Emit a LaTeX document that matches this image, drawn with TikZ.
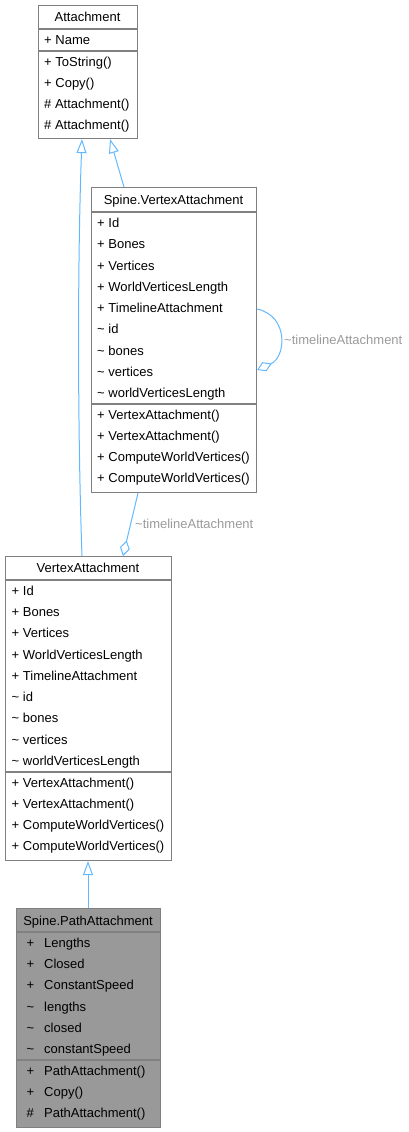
\documentclass[tikz,border=0pt]{standalone}
\usepackage{fontspec}
\setmainfont{Liberation Sans}
\usetikzlibrary{arrows.meta}
\definecolor{edgec}{HTML}{63B8FF}
\definecolor{bordc}{HTML}{808080}
\definecolor{lblc}{HTML}{9A9A9A}
\definecolor{pafill}{HTML}{999999}
\newcommand{\myfs}{\fontsize{13pt}{15pt}\selectfont}
\newcommand{\mytilde}{\textasciitilde}
\tikzset{
  cls/.style={draw=bordc, line width=1.1pt, fill=white, anchor=north west, inner sep=0pt},
  div/.style={draw=bordc, line width=1.1pt},
  row/.style={anchor=west, inner sep=0pt, text height=9.3pt, text depth=0pt, font=\myfs},
  ttl/.style={anchor=center, inner sep=0pt, text height=9.3pt, text depth=0pt, font=\myfs},
  lbl/.style={anchor=west, inner sep=0pt, text height=9.3pt, text depth=0pt, font=\myfs, text=lblc},
  rel/.style={draw=edgec, line width=1pt},
  inh/.style={rel, -{Triangle[open, length=14pt, width=10pt]}},
  agg/.style={rel, -{Diamond[open, length=16pt, width=10pt]}}
}
\begin{document}
\begin{tikzpicture}[x=1pt,y=-1pt]
\useasboundingbox (0,0) rectangle (409,1132);

% ---------- Attachment ----------
\node[cls, minimum width=99pt, minimum height=133pt] (att) at (38,5) {};
\draw[div] (38,29) -- (137,29);
\draw[div] (38,51) -- (137,51);
\node[ttl] (att-t) at (87.5,17) {Attachment};
\node[row] (att-a1) at (44,40) {+ Name};
\foreach \t [count=\i] in {+ ToString(), + Copy(), \# Attachment(), \# Attachment()}
  \node[row] (att-m\i) at (44,{62+21.1*(\i-1)}) {\t};

% ---------- Spine.VertexAttachment ----------
\node[cls, minimum width=165pt, minimum height=305pt] (sva) at (91,187) {};
\draw[div] (91,212) -- (256,212);
\draw[div] (91,404) -- (256,404);
\node[ttl] (sva-t) at (173.5,200) {Spine.VertexAttachment};
\foreach \t [count=\i] in {+ Id, + Bones, + Vertices, + WorldVerticesLength, + TimelineAttachment, \mytilde\ id, \mytilde\ bones, \mytilde\ vertices, \mytilde\ worldVerticesLength}
  \node[row] (sva-a\i) at (97,{222.8+21.3*(\i-1)}) {\t};
\foreach \t [count=\i] in {+ VertexAttachment(), + VertexAttachment(), + ComputeWorldVertices(), + ComputeWorldVertices()}
  \node[row] (sva-m\i) at (97,{414.8+21.1*(\i-1)}) {\t};

% ---------- VertexAttachment ----------
\node[cls, minimum width=166pt, minimum height=304pt] (va) at (5,556) {};
\draw[div] (5,580) -- (171,580);
\draw[div] (5,772) -- (171,772);
\node[ttl] (va-t) at (88,568) {VertexAttachment};
\foreach \t [count=\i] in {+ Id, + Bones, + Vertices, + WorldVerticesLength, + TimelineAttachment, \mytilde\ id, \mytilde\ bones, \mytilde\ vertices, \mytilde\ worldVerticesLength}
  \node[row] (va-a\i) at (11.5,{590.5+21.3*(\i-1)}) {\t};
\foreach \t [count=\i] in {+ VertexAttachment(), + VertexAttachment(), + ComputeWorldVertices(), + ComputeWorldVertices()}
  \node[row] (va-m\i) at (11.5,{782.7+21.1*(\i-1)}) {\t};

% ---------- Spine.PathAttachment ----------
\node[cls, fill=pafill, minimum width=144pt, minimum height=219pt] (pa) at (16,908) {};
\draw[div] (16,932) -- (160,932);
\draw[div] (16,1060) -- (160,1060);
\node[ttl] (pa-t) at (88,920.5) {Spine.PathAttachment};
\foreach \s/\t [count=\i] in {+/Lengths, +/Closed, +/ConstantSpeed, \mytilde/lengths, \mytilde/closed, \mytilde/constantSpeed}{
  \node[row] (pa-s\i) at (26.5,{942.7+21.3*(\i-1)}) {\s};
  \node[row] (pa-a\i) at (44,{942.7+21.3*(\i-1)}) {\t};
}
\foreach \s/\t [count=\i] in {+/PathAttachment(), +/Copy(), \#/PathAttachment()}{
  \node[row] (pa-q\i) at (26.5,{1071+21.1*(\i-1)}) {\s};
  \node[row] (pa-m\i) at (44,{1071+21.1*(\i-1)}) {\t};
}

% ---------- relations ----------
\draw[inh] ([xshift=77pt]va.north west) .. controls +(-4.5,-126) and +(-4.5,120) .. ([xshift=44pt]att.south west);
\draw[inh] ([xshift=33pt]sva.north west) -- ([xshift=72pt]att.south west);
\draw[inh] ([xshift=72pt]pa.north west) -- ([xshift=83pt]va.south west);
\draw[agg] ([yshift=-122pt]sva.north east) .. controls +(32,7) and +(29,-13) .. ([yshift=-183pt]sva.north east);
\node[lbl] (lbl-loop) at (284,340) {\mytilde timelineAttachment};
\draw[agg] ([xshift=47pt]sva.south west) -- ([xshift=118pt]va.north west);
\node[lbl] (lbl-agg) at (135,524) {\mytilde timelineAttachment};
\end{tikzpicture}
\end{document}
